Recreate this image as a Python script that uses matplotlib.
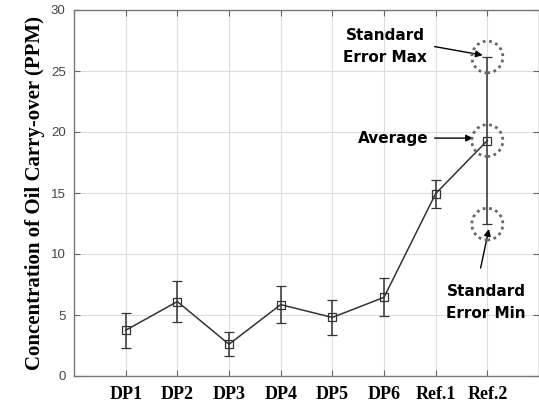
import matplotlib
matplotlib.use("Agg")
import matplotlib.pyplot as plt
from matplotlib.patches import Ellipse

categories = ["DP1", "DP2", "DP3", "DP4", "DP5", "DP6", "Ref.1", "Ref.2"]
means = [3.75, 6.1, 2.6, 5.85, 4.8, 6.45, 14.95, 19.3]
errors = [1.45, 1.65, 1.0, 1.5, 1.4, 1.55, 1.15, 6.85]
yticks = [0, 5, 10, 15, 20, 25, 30]

fig = plt.figure(figsize=(5.39, 4.03), dpi=100)
ax = fig.add_axes([74/539, 1-376/403, 465/539, 366/403])

x = list(range(1, len(categories)+1))
ax.errorbar(x, means, yerr=errors, color="#333333", lw=1.1, marker="s", ms=5.5,
            mfc="none", mec="#333333", mew=0.9, capsize=3.5, elinewidth=1.1, zorder=3)

ax.set_xlim(0, 9)
ax.set_ylim(0, 30)
ax.set_xticks(x)
ax.set_xticklabels(categories, family="Liberation Serif", fontweight="bold", fontsize=13)
ax.set_yticks(yticks)
ax.set_yticklabels([str(v) for v in yticks], family="Liberation Sans", fontsize=9.5, color="#444444")
ax.grid(True, color="#dddddd", lw=0.8)
ax.tick_params(direction="in", top=True, right=True, length=4, color="#666666", pad=6)
ax.tick_params(axis="x", pad=7)
for s in ax.spines.values():
    s.set_color("#777777")
    s.set_linewidth(1.0)
ax.set_ylabel("Concentration of Oil Carry-over (PPM)", family="Liberation Serif",
              fontweight="bold", fontsize=15, labelpad=4)
ax.set_axisbelow(True)

# annotations around Ref.2
xr = 8
for yv in [means[7] + errors[7], means[7], means[7] - errors[7]]:
    e = Ellipse((xr, yv), width=0.6, height=2.6, fill=False, ls=(0, (1, 1.3)),
                lw=2.0, ec="#666666", zorder=4)
    ax.add_patch(e)

tf = dict(family="DejaVu Sans", fontweight="bold", fontsize=11, color="black", linespacing=1.6)
ap = dict(arrowstyle="-|>", color="black", lw=1.0, mutation_scale=10, shrinkA=0, shrinkB=0)

ax.text(6.02, 27.0, "Standard\nError Max", ha="center", va="center", **tf)
ax.annotate("", xy=(7.91, 26.3), xytext=(6.98, 27.0), arrowprops=ap)

ax.text(6.87, 19.5, "Average", ha="right", va="center", **tf)
ax.annotate("", xy=(7.72, 19.5), xytext=(6.98, 19.5), arrowprops=ap)

ax.text(7.98, 6.05, "Standard\nError Min", ha="center", va="center", **tf)
ax.annotate("", xy=(8.03, 12.05), xytext=(7.87, 8.85), arrowprops=ap)

fig.savefig("out.png", dpi=100)
